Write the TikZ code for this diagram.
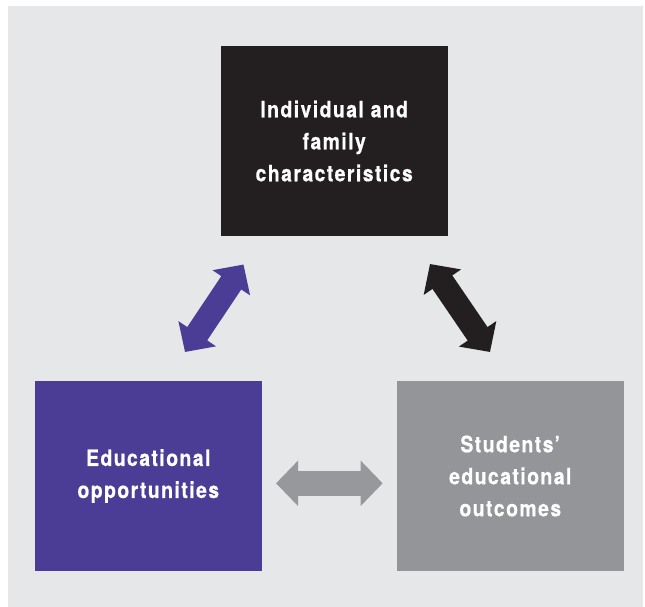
\documentclass[tikz,border=0pt]{standalone}
\usepackage{fontspec}
\setmainfont{TeX Gyre Heros}[FakeStretch=0.86, LetterSpace=6.5, FakeBold=0.6]
\usetikzlibrary{arrows.meta}
\definecolor{bgc}{HTML}{E6E7E8}
\definecolor{famc}{HTML}{231F20}
\definecolor{oppc}{HTML}{4B3D96}
\definecolor{outc}{HTML}{939598}
\definecolor{harc}{HTML}{97989B}
\begin{document}
\begin{tikzpicture}[x=1pt,y=-1pt,
  box/.style={rectangle, minimum width=227pt, minimum height=190pt, inner sep=0pt, outer sep=0pt,
    text=white, align=center, font=\bfseries\fontsize{22.5}{32}\selectfont},
  bigarrow/.style={line width=24pt,
    {Triangle[length=22pt,width=44pt]}-{Triangle[length=22pt,width=44pt]}}]
\useasboundingbox (0,0) rectangle (645,607);
\fill[bgc] (8,6) rectangle (643,607);
\node[box, fill=famc] (fam) at (334.2,141) {Individual and\\family\\characteristics};
\node[box, fill=oppc] (opp) at (148.3,476) {Educational\\opportunities};
\node[box, fill=outc] (out) at (510.3,476) {Students’\\educational\\outcomes};
\coordinate (a1) at (185,352);
\coordinate (a2) at (243.5,264.5);
\coordinate (b1) at (430,264);
\coordinate (b2) at (490,352);
\coordinate (c1) at (276,483.3);
\coordinate (c2) at (382.7,483.3);
\draw[bigarrow, oppc] (a1) -- (a2);
\draw[bigarrow, famc] (b1) -- (b2);
\draw[bigarrow, harc, line width=25pt] (c1) -- (c2);
\end{tikzpicture}
\end{document}
